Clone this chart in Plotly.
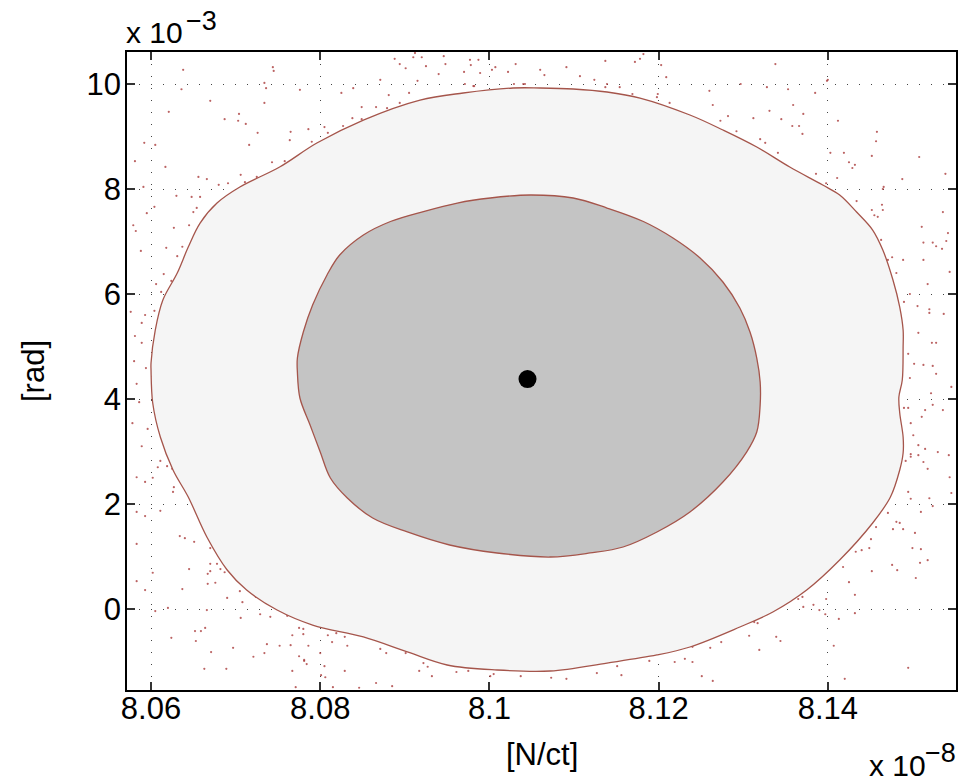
import plotly.graph_objects as go

# ---------------- data (x in units of 1e-8 N/ct, y in units of 1e-3 rad) ----------------
center_x = [8.1045]
center_y = [4.38]

outer_x = [8.1028, 8.1060, 8.1099, 8.1139, 8.1178, 8.1237, 8.1276, 8.1316, 8.1355, 8.1394,
           8.1414, 8.1434, 8.1453, 8.1465, 8.1477, 8.1485, 8.1489, 8.1489, 8.1488, 8.1484,
           8.1485, 8.1489, 8.1489, 8.1485, 8.1474, 8.1453, 8.1414, 8.1375, 8.1335, 8.1296,
           8.1237, 8.1198, 8.1139, 8.1072, 8.1009, 8.0950, 8.0903, 8.0851, 8.0791, 8.0749,
           8.0713, 8.0690, 8.0666, 8.0644, 8.0626, 8.0611, 8.0602, 8.0600, 8.0600, 8.0605,
           8.0614, 8.0631, 8.0644, 8.0658, 8.0678, 8.0705, 8.0752, 8.0796, 8.0851, 8.0918,
           8.0969, 8.1028]
outer_y = [9.924, 9.924, 9.905, 9.848, 9.733, 9.410, 9.124, 8.800, 8.419, 8.076,
           7.886, 7.562, 7.219, 6.838, 6.267, 5.752, 5.314, 4.990, 4.362, 4.038,
           3.733, 3.276, 2.971, 2.648, 2.133, 1.638, 0.933, 0.362, -0.057, -0.343,
           -0.724, -0.876, -1.029, -1.181, -1.162, -1.067, -0.819, -0.533, -0.305, -0.019,
           0.362, 0.743, 1.371, 2.133, 2.648, 3.276, 3.924, 4.552, 4.686, 5.314,
           5.886, 6.400, 6.895, 7.352, 7.733, 8.038, 8.419, 8.876, 9.314, 9.695,
           9.829, 9.924]

inner_x = [8.1048, 8.1099, 8.1139, 8.1182, 8.1217, 8.1249, 8.1276, 8.1296, 8.1308, 8.1316,
           8.1320, 8.1320, 8.1316, 8.1304, 8.1276, 8.1237, 8.1198, 8.1158, 8.1119, 8.1072,
           8.1009, 8.0953, 8.0903, 8.0862, 8.0832, 8.0812, 8.0800, 8.0788, 8.0776, 8.0773,
           8.0773, 8.0780, 8.0791, 8.0808, 8.0823, 8.0851, 8.0883, 8.0922, 8.0962, 8.1001,
           8.1048]
inner_y = [7.886, 7.829, 7.638, 7.381, 7.067, 6.686, 6.229, 5.733, 5.276, 4.781,
           4.324, 3.886, 3.371, 2.990, 2.419, 1.848, 1.467, 1.181, 1.067, 0.990,
           1.067, 1.219, 1.467, 1.733, 2.114, 2.495, 2.990, 3.505, 4.019, 4.514,
           4.781, 5.276, 5.790, 6.362, 6.743, 7.124, 7.381, 7.571, 7.733, 7.829,
           7.886]

sample_x = [8.0636, 8.0670, 8.0621, 8.0687, 8.0704, 8.0703, 8.0712, 8.0726, 8.0716, 8.0734,
            8.0592, 8.0605, 8.0581, 8.0617, 8.0656, 8.0666, 8.0680, 8.0691, 8.0706, 8.0591,
            8.0630, 8.0648, 8.0658, 8.0604, 8.0595, 8.0650, 8.0654, 8.0579, 8.0582, 8.0627,
            8.0645, 8.0588, 8.0618, 8.0637, 8.0631, 8.0615, 8.0624, 8.0606, 8.0612, 8.0576,
            8.0593, 8.0604, 8.0589, 8.0581, 8.0589, 8.0580, 8.0594, 8.0776, 8.0765, 8.0764,
            8.0786, 8.0790, 8.0805, 8.0809, 8.0827, 8.0838, 8.0849, 8.0849, 8.0866, 8.0879,
            8.0881, 8.0894, 8.0905, 8.0825, 8.0743, 8.0758, 8.0725, 8.0711, 8.0734, 8.0981,
            8.1040, 8.1137, 8.1154, 8.1169, 8.1199, 8.1198, 8.1213, 8.1260, 8.1264, 8.1282,
            8.1273, 8.1292, 8.1312, 8.1328, 8.1331, 8.1345, 8.1353, 8.1359, 8.1358, 8.1366,
            8.1371, 8.1370, 8.1385, 8.1320, 8.1326, 8.1341, 8.1386, 8.1398, 8.1403, 8.1412,
            8.1411, 8.1419, 8.1425, 8.1432, 8.1429, 8.1434, 8.1452, 8.1458, 8.1457, 8.1466,
            8.1465, 8.1464, 8.1465, 8.1452, 8.1455, 8.1459, 8.1488, 8.1508, 8.1539, 8.1536,
            8.1511, 8.1513, 8.1524, 8.1528, 8.1535, 8.1540, 8.1542, 8.1463, 8.1476, 8.1471,
            8.1489, 8.1513, 8.1481, 8.1518, 8.1544, 8.1497, 8.1490, 8.1506, 8.1520, 8.1520,
            8.1537, 8.1507, 8.1523, 8.1528, 8.1495, 8.1502, 8.1513, 8.1524, 8.1528, 8.1497,
            8.1546, 8.1522, 8.1490, 8.1495, 8.1515, 8.1511, 8.1536, 8.1524, 8.1498, 8.1501,
            8.1507, 8.1515, 8.1530, 8.1498, 8.1498, 8.1507, 8.1513, 8.1543, 8.1492, 8.1518,
            8.1544, 8.1546, 8.1495, 8.1498, 8.1520, 8.1524, 8.1510, 8.1471, 8.1481, 8.1485,
            8.1477, 8.1489, 8.1503, 8.1451, 8.1457, 8.1440, 8.1433, 8.1449, 8.1500, 8.1510,
            8.1518, 8.1509, 8.1476, 8.1482, 8.1452, 8.1418, 8.1504, 8.1425, 8.1432, 8.1398,
            8.1370, 8.1365, 8.1383, 8.1371, 8.1390, 8.1397, 8.1432, 8.1413, 8.1328, 8.1313,
            8.1317, 8.1307, 8.1339, 8.1344, 8.1407, 8.1319, 8.1274, 8.1261, 8.1240, 8.1240,
            8.1231, 8.1219, 8.1189, 8.1151, 8.1156, 8.1127, 8.1251, 8.1495, 8.1420, 8.1091,
            8.1073, 8.0583, 8.0586, 8.0578, 8.0596, 8.0589, 8.0611, 8.0608, 8.0619, 8.0625,
            8.0583, 8.0593, 8.0602, 8.0627, 8.0626, 8.0583, 8.0593, 8.0611, 8.0634, 8.0640,
            8.0651, 8.0583, 8.0670, 8.0670, 8.0678, 8.0682, 8.0670, 8.0667, 8.0687, 8.0645,
            8.0602, 8.0583, 8.0667, 8.0676, 8.0637, 8.0593, 8.0705, 8.0690, 8.0708, 8.0724,
            8.0620, 8.0605, 8.0666, 8.0729, 8.0741, 8.0706, 8.0761, 8.0652, 8.0659, 8.0664,
            8.0624, 8.0653, 8.0775, 8.0780, 8.0767, 8.0780, 8.0809, 8.0819, 8.0829, 8.0814,
            8.0737, 8.0752, 8.0765, 8.0786, 8.0832, 8.0697, 8.0671, 8.0734, 8.0800, 8.0871,
            8.0878, 8.0721, 8.0775, 8.0781, 8.0784, 8.0901, 8.0805, 8.0829, 8.0663, 8.0689,
            8.0767, 8.0801, 8.0922, 8.0927, 8.0917, 8.0932, 8.0961, 8.0975, 8.1001, 8.1005,
            8.1037, 8.0771, 8.0781, 8.0806, 8.0815, 8.0846, 8.0866, 8.0885, 8.1264, 8.1400,
            8.0638, 8.0744, 8.0745, 8.0888, 8.0894, 8.0901, 8.0910, 8.0920, 8.0912, 8.0925,
            8.0940, 8.0948, 8.0946, 8.0970, 8.0977, 8.0987, 8.0978, 8.0989, 8.1003, 8.1007,
            8.1022, 8.1031, 8.1060, 8.1065, 8.1091, 8.1107, 8.1124, 8.1137, 8.1172, 8.1178,
            8.1182, 8.1203, 8.1209, 8.1338, 8.0871, 8.0915, 8.0982, 8.1029, 8.1042, 8.1139,
            8.1297, 8.1399, 8.0736, 8.0839, 8.0971]
sample_y = [9.90, 9.68, 9.47, 9.33, 9.43, 9.30, 9.24, 9.07, 8.84, 9.64,
            8.88, 8.84, 8.53, 8.42, 8.23, 8.19, 8.08, 8.11, 8.27, 8.04,
            7.87, 7.85, 7.85, 7.66, 7.54, 7.56, 7.64, 7.31, 7.20, 7.26,
            7.31, 6.82, 6.88, 6.90, 6.72, 6.38, 6.25, 6.19, 6.04, 5.66,
            5.60, 5.68, 5.45, 5.20, 5.07, 4.72, 4.59, 9.89, 9.09, 8.93,
            9.14, 8.90, 9.18, 9.07, 9.20, 9.35, 9.33, 9.56, 9.56, 9.54,
            9.79, 9.64, 9.83, 9.83, 8.51, 8.53, 8.23, 8.13, 10.02, 9.96,
            10.00, 9.94, 9.94, 9.81, 9.81, 9.75, 9.64, 9.87, 9.60, 9.39,
            9.30, 9.10, 9.35, 9.94, 9.49, 9.33, 9.90, 9.60, 9.20, 9.20,
            9.43, 9.05, 9.83, 8.95, 8.88, 8.69, 8.29, 8.11, 8.69, 9.30,
            8.21, 8.69, 8.51, 8.46, 8.40, 7.77, 8.63, 9.09, 8.91, 8.04,
            8.00, 7.70, 7.60, 7.60, 7.50, 7.47, 8.19, 8.61, 8.29, 7.56,
            7.28, 6.98, 6.98, 6.91, 6.86, 7.01, 7.16, 7.03, 6.70, 6.65,
            6.65, 6.65, 6.40, 6.19, 6.42, 6.00, 5.85, 5.77, 5.71, 5.64,
            5.62, 5.26, 5.07, 5.07, 4.86, 4.67, 4.65, 4.63, 4.48, 4.40,
            4.23, 4.11, 3.83, 3.83, 3.79, 3.66, 3.79, 3.89, 3.54, 3.31,
            3.12, 3.05, 2.99, 2.95, 2.90, 2.93, 2.80, 2.93, 2.82, 2.67,
            2.51, 2.21, 2.23, 2.10, 2.11, 1.96, 1.85, 1.83, 1.66, 1.64,
            1.52, 1.52, 1.45, 1.33, 1.56, 1.12, 1.09, 1.16, 1.16, 1.14,
            0.93, 0.88, 0.84, 0.74, 0.72, 0.80, 0.59, 0.51, 0.27, 0.19,
            0.23, 0.19, 0.08, 0.04, -0.02, -0.10, -0.08, -0.19, -0.10, -0.25,
            -0.27, -0.51, -0.53, -0.61, -0.70, -0.78, -0.63, -0.74, -0.72, -1.01,
            -0.95, -1.01, -0.99, -1.09, -1.26, -1.22, -1.28, -1.12, -1.33, -1.33,
            -1.31, 4.29, 3.94, 3.54, 3.43, 3.10, 2.82, 2.70, 2.72, 2.67,
            2.51, 2.42, 2.50, 2.32, 2.23, 1.85, 1.77, 1.87, 1.39, 1.35,
            1.28, 1.24, 1.16, 0.86, 0.86, 0.76, 0.72, 0.67, 0.70, 0.76,
            0.69, 0.53, 0.48, 0.50, 0.38, 0.36, 0.34, 0.21, 0.13, 0.23,
            0.02, -0.04, -0.02, -0.10, -0.15, -0.17, -0.13, -0.42, -0.42, -0.36,
            -0.55, -0.61, -0.36, -0.38, -0.50, -0.48, -0.50, -0.46, -0.53, -0.63,
            -0.67, -0.70, -0.69, -0.70, -0.70, -0.74, -0.82, -0.84, -0.84, -0.76,
            -0.84, -0.91, -0.90, -0.99, -1.05, -0.84, -1.09, -1.18, -1.14, -1.14,
            -1.18, -1.26, -1.03, -1.10, -1.18, -1.28, -1.20, -1.18, -1.28, -1.24,
            -1.28, -1.49, -0.97, -1.30, -1.49, -1.50, -1.41, -1.47, -1.37, 10.08,
            10.27, 10.32, 10.25, 10.48, 10.38, 10.30, 10.51, 10.51, 10.59, 10.34,
            10.19, 10.38, 10.53, 10.23, 10.46, 10.46, 10.36, 10.21, 10.27, 10.32,
            10.23, 10.38, 10.27, 10.17, 10.32, 10.15, 10.08, 10.44, 10.42, 10.48,
            10.57, 10.36, 10.13, 10.38, 10.08, 10.06, 9.96, 10.00, 10.00, 10.00,
            10.00, 10.06, 9.92, 9.92, 10.00]

x_ticks = [8.06, 8.08, 8.10, 8.12, 8.14]
x_tick_labels = ["8.06", "8.08", "8.1", "8.12", "8.14"]
y_ticks = [0, 2, 4, 6, 8, 10]
y_tick_labels = ["0", "2", "4", "6", "8", "10"]
x_range = [8.05716, 8.15515]
y_range = [-1.543, 10.61]
x_title = "[N/ct]"
y_title = "[rad]"
y_exponent = "\u22123"
x_exponent = "\u22128"

# ---------------- figure ----------------
LINE = "rgb(165,85,75)"
FONT = "Liberation Sans, Arial, Helvetica, sans-serif"

fig = go.Figure()
fig.add_trace(go.Scatter(x=sample_x, y=sample_y, mode="markers",
                         marker=dict(size=2.2, color="rgba(170,60,60,0.8)", line=dict(width=0)),
                         hoverinfo="skip", showlegend=False))
fig.add_trace(go.Scatter(x=outer_x, y=outer_y, mode="lines", fill="toself",
                         fillcolor="#f5f5f5", line=dict(color=LINE, width=1.3, shape="spline", smoothing=1.0),
                         showlegend=False))
fig.add_trace(go.Scatter(x=inner_x, y=inner_y, mode="lines", fill="toself",
                         fillcolor="#c4c4c4", line=dict(color=LINE, width=1.3, shape="spline", smoothing=1.0),
                         showlegend=False))
fig.add_trace(go.Scatter(x=center_x, y=center_y, mode="markers",
                         marker=dict(size=18, color="black"), showlegend=False))

axis_common = dict(showline=True, linecolor="black", linewidth=1.5, mirror="ticks",
                   ticks="inside", ticklen=8, tickwidth=1.5, tickcolor="#333",
                   showgrid=True, gridcolor="#444", gridwidth=1, griddash="1px,11px",
                   zeroline=False, automargin=False,
                   tickfont=dict(family=FONT, size=31, color="black"))

fig.update_xaxes(range=x_range, tickvals=x_ticks, ticktext=x_tick_labels,
                 ticklabelstandoff=-10, **axis_common)
fig.update_yaxes(range=y_range, tickvals=y_ticks, ticktext=y_tick_labels,
                 ticklabelstandoff=-2, **axis_common)

# axis titles
fig.add_annotation(xref="paper", yref="paper", x=0.5, y=0, xanchor="center", yanchor="middle",
                   yshift=-64, text=x_title, showarrow=False,
                   font=dict(family=FONT, size=31, color="black"))
fig.add_annotation(xref="paper", yref="paper", x=0, y=0.5, xanchor="center", yanchor="middle",
                   xshift=-94, text=y_title, textangle=-90, showarrow=False,
                   font=dict(family=FONT, size=31, color="black"))

# exponent labels (base + superscript as separate texts)
fig.add_annotation(xref="paper", yref="paper", x=0, y=1, xanchor="left", yanchor="middle",
                   xshift=-3, yshift=20, text="x 10", showarrow=False,
                   font=dict(family=FONT, size=30, color="black"))
fig.add_annotation(xref="paper", yref="paper", x=0, y=1, xanchor="left", yanchor="middle",
                   xshift=57, yshift=31, text=y_exponent, showarrow=False,
                   font=dict(family=FONT, size=27, color="black"))
fig.add_annotation(xref="paper", yref="paper", x=1, y=0, xanchor="right", yanchor="middle",
                   xshift=-28, yshift=-75, text="x 10", showarrow=False,
                   font=dict(family=FONT, size=30, color="black"))
fig.add_annotation(xref="paper", yref="paper", x=1, y=0, xanchor="right", yanchor="middle",
                   xshift=2, yshift=-63, text=x_exponent, showarrow=False,
                   font=dict(family=FONT, size=27, color="black"))

fig.update_layout(width=960, height=782, margin=dict(l=127, r=4, t=52, b=92),
                  plot_bgcolor="white", paper_bgcolor="white",
                  font=dict(family=FONT, color="black"))

fig.write_html("out.html", config={"displayModeBar": False},
               post_script="document.body.style.margin='0';")
